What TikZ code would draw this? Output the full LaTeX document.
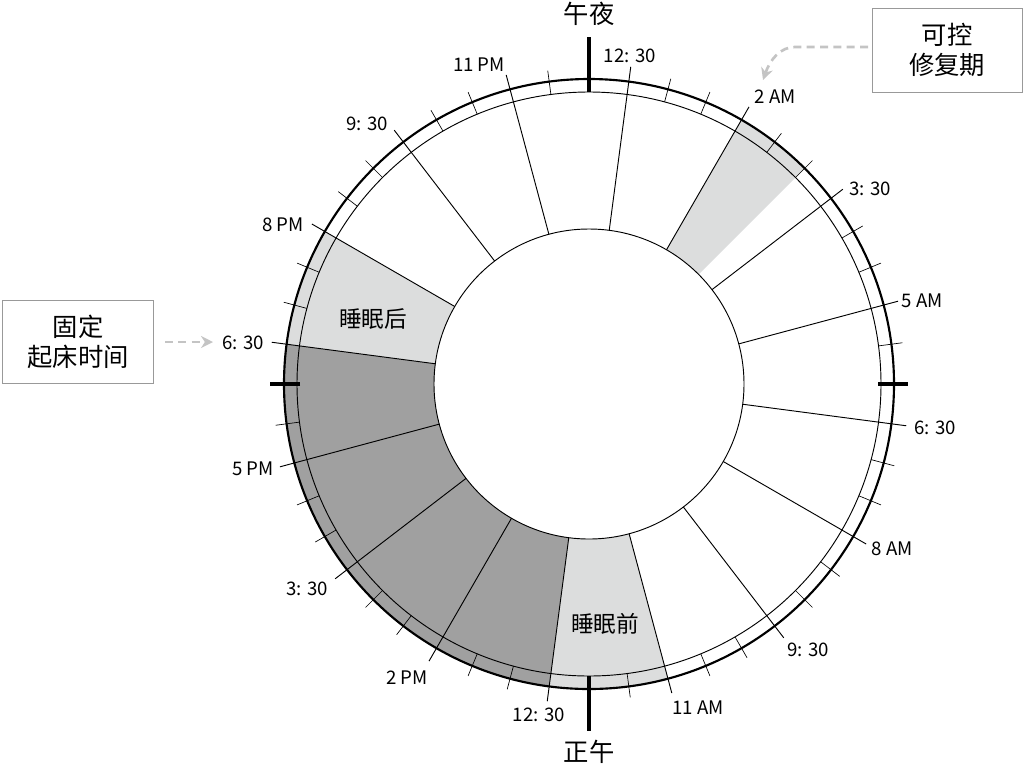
\documentclass[tikz,border=0pt]{standalone}
\usepackage{fontspec}
\setmainfont{Noto Sans CJK SC}
\usetikzlibrary{arrows.meta}
\definecolor{lg}{HTML}{DCDDDD}
\definecolor{dg}{HTML}{A0A0A0}
\definecolor{ag}{HTML}{C4C4C4}
\tikzset{lbl/.style={font=\fontsize{14}{16}\selectfont},
 ttl/.style={font=\fontsize{19}{22}\selectfont},
 inl/.style={font=\fontsize{17}{20}\selectfont},
 boxt/.style={font=\fontsize{19}{23}\selectfont,align=center},
 darr/.style={draw=ag,line width=2pt,dash pattern=on 6pt off 4pt,-{Stealth[length=9pt,width=9pt]}}}
\newcommand{\sect}[3]{\fill[#1] (#2:155) arc[start angle=#2,end angle=#3,radius=155] -- (#3:305) arc[start angle=#3,end angle=#2,radius=305] -- cycle;}
\begin{document}
\begin{tikzpicture}[x=0.75pt,y=-0.75pt]
\useasboundingbox (0,0) rectangle (1025,769);
\begin{scope}[shift={(589,384)},y=0.75pt]
\sect{dg}{-97.5}{-187.5}
\sect{lg}{-187.5}{-210}
\sect{lg}{-75}{-97.5}
\sect{lg}{60}{45}
\draw[line width=0.7pt] (0,0) circle[radius=155];
\draw[line width=0.7pt] (0,0) circle[radius=292];
\draw[line width=1.6pt] (0,0) circle[radius=305];
\foreach \k in {0,...,47}{
  \pgfmathsetmacro\a{90-7.5*\k}
  \pgfmathtruncatemacro\m{mod(\k,3)}
  \ifnum\m=1 \draw[line width=0.7pt] (\a:155) -- (\a:320);
  \else \draw[line width=0.5pt] (\a:292) -- (\a:316); \fi}
\draw[line width=2.5pt] (90:292) -- (90:347);
\draw[line width=2.5pt] (-90:292) -- (-90:347);
\draw[line width=2.5pt] (0:289) -- (0:319);
\draw[line width=2.5pt] (180:289) -- (180:319);
\end{scope}
\foreach \x/\y/\t in {630/56/{12: 30},775/97/{2 AM},870/189/{3: 30},922/301/{5 AM},935/428/{6: 30},892/549/{8 AM},808/650/{9: 30},698/708/{11 AM},539/715/{12: 30},407/678/{2 PM},307/589/{3: 30},253/469/{5 PM},243/343/{6: 30},283/225/{8 PM},367/124/{9: 30},479/65/{11 PM}}
  \node[lbl] at (\x,\y) {\t};
\node[ttl] (mid) at (589,14) {午夜};
\node[ttl] (noon) at (589,752) {正午};
\node[inl] (post) at (373,319) {睡眠后};
\node[inl] (pre) at (605,624) {睡眠前};
\draw[black!40,line width=0.5pt] (872,8) rectangle (1022,92);
\node[boxt] (t1) at (947,50) {可控\\修复期};
\draw[black!40,line width=0.5pt] (2,300) rectangle (153,383);
\node[boxt] (t2) at (78,342) {固定\\起床时间};
\coordinate (a1s) at (868,47);
\coordinate (a1e) at (763,80);
\coordinate (a2s) at (165,342);
\coordinate (a2e) at (213,342);
\draw[darr] (a1s) -- (795,47) .. controls (780,47) and (770,60) .. (a1e);
\draw[darr] (a2s) -- (a2e);
\end{tikzpicture}
\end{document}
